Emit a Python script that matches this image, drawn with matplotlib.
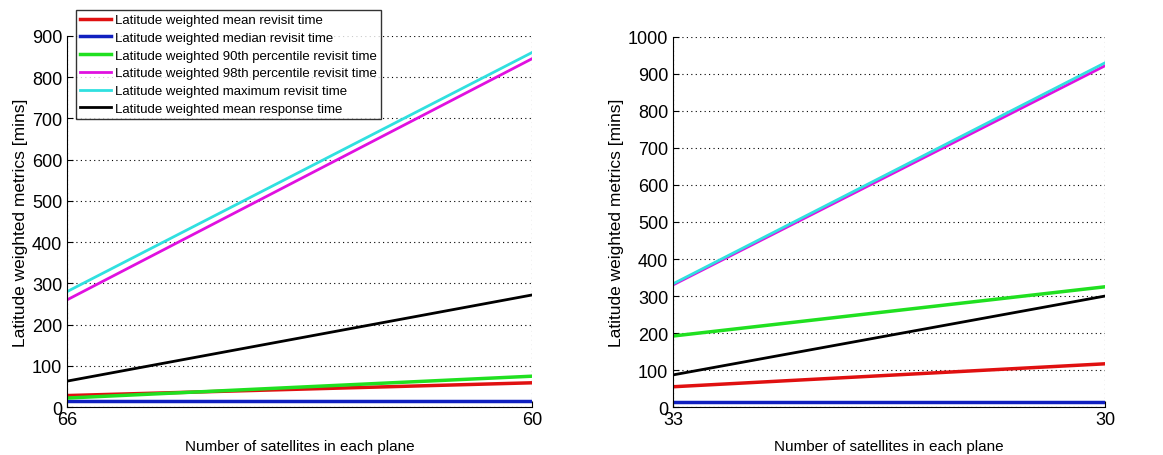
import matplotlib
matplotlib.use("Agg")
import matplotlib.pyplot as plt

# data (end points of each line)
labels = ["Latitude weighted mean revisit time",
          "Latitude weighted median revisit time",
          "Latitude weighted 90th percentile revisit time",
          "Latitude weighted 98th percentile revisit time",
          "Latitude weighted maximum revisit time",
          "Latitude weighted mean response time"]
colors = ["#e01010", "#1020c0", "#20e020", "#e010e0", "#30e0e0", "#000000"]

left_x = [66, 60]
left_mean = [28, 59]
left_median = [15, 15]
left_p90 = [22, 75]
left_p98 = [260, 845]
left_max = [280, 860]
left_resp = [63, 272]

right_x = [33, 30]
right_mean = [55, 117]
right_median = [13, 13]
right_p90 = [192, 325]
right_p98 = [330, 922]
right_max = [333, 930]
right_resp = [87, 300]

plt.rcParams['font.family'] = ['Liberation Sans', 'DejaVu Sans']

fig = plt.figure(figsize=(11.63, 4.56), dpi=100)
ax1 = fig.add_axes([0.0576, 0.105, 0.400, 0.814])
ax2 = fig.add_axes([0.5787, 0.105, 0.3715, 0.812])

widths = [2.5, 2.5, 2.5, 2, 2, 2]


def draw(ax, x, series, ytop):
    handles = []
    for ys, c, lab, w in zip(series, colors, labels, widths):
        h, = ax.plot(x, ys, "-", color=c, lw=w, label=lab)
        handles.append(h)
    ax.set_xlim(x[0], x[-1])
    ax.set_xticks(x)
    ax.set_ylim(0, ytop)
    ax.set_yticks(range(0, ytop + 1, 100))
    ax.grid(True, color="k", linestyle=(0, (1, 3)), linewidth=0.8)
    for s in ["top", "right"]:
        ax.spines[s].set_visible(False)
    ax.tick_params(direction="in", length=4, labelsize=13)
    ax.tick_params(axis="x", pad=3)
    ax.set_xlabel("Number of satellites in each plane", fontsize=11, labelpad=8)
    ax.set_ylabel("Latitude weighted metrics [mins]", fontsize=12.5, labelpad=3)
    return handles


hs = draw(ax1, left_x,
          [left_mean, left_median, left_p90, left_p98, left_max, left_resp], 900)
draw(ax2, right_x,
     [right_mean, right_median, right_p90, right_p98, right_max, right_resp], 1000)

leg = fig.legend(handles=hs, loc="upper left", bbox_to_anchor=(0.065, 0.976),
                 fontsize=9.5, frameon=True, fancybox=False, edgecolor="k",
                 handlelength=2.4, handletextpad=0.3, borderpad=0.3,
                 labelspacing=0.42, borderaxespad=0)
leg.get_frame().set_linewidth(1)

fig.savefig("out.png", dpi=100)
